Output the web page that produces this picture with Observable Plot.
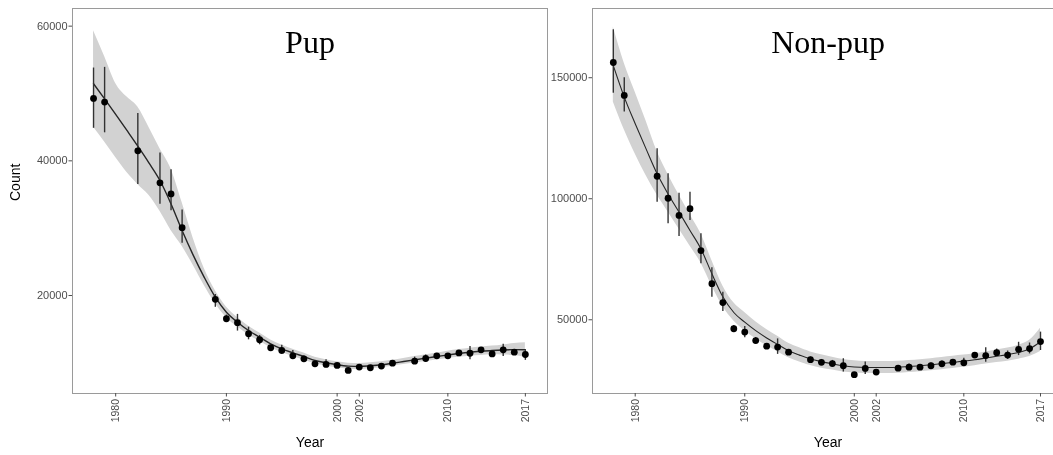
<!DOCTYPE html>
<html><head><meta charset="utf-8">
<script src="https://cdn.jsdelivr.net/npm/d3@7"></script>
<script src="https://cdn.jsdelivr.net/npm/@observablehq/plot@0.6"></script>
<style>
body{margin:0;background:#fff;overflow:hidden}
#wrap{position:relative;width:1053px;height:455px;overflow:hidden;background:#fff}
#left{position:absolute;left:0;top:0;width:560px;height:455px}
#right{position:absolute;left:560px;top:0;width:503px;height:455px}
#wrap svg{max-width:none !important;will-change:transform;-webkit-font-smoothing:antialiased}
</style></head><body><div id="wrap"><div id="left"></div><div id="right"></div></div>
<script>
// ---- shared ----
const xTicks = [1980, 1990, 2000, 2002, 2010, 2017];
const fitYears = [1978,1979,1980,1981,1982,1983,1984,1985,1986,1987,1988,1989,1990,1991,1992,1993,1994,1995,1996,1997,1998,1999,2000,2001,2002,2003,2004,2005,2006,2007,2008,2009,2010,2011,2012,2013,2014,2015,2016,2017];

// ---- Pup ----
const pupYTicks = [20000, 40000, 60000];
const pupFit = [51440,49200,46900,44550,42170,39700,37080,33600,29650,26000,22700,19750,17520,16040,14800,13810,12830,12090,11490,10940,10350,10010,9710,9510,9460,9560,9710,9950,10200,10450,10700,10940,11190,11400,11580,11720,11840,11920,11960,11940];
const pupFitLo = [45000,42800,40500,38300,36500,34900,32500,29650,27300,24500,21500,18800,16700,15350,14150,13200,12250,11540,10960,10430,9860,9540,9260,9060,9010,9110,9260,9500,9740,9970,10200,10420,10640,10830,10980,11090,11190,11170,11080,10850];
const pupFitHi = [59300,55500,51500,49500,48000,45000,41800,38800,33800,28500,24000,20700,18300,16730,15450,14420,13410,12640,12020,11450,10840,10480,10160,9960,9910,10010,10160,10400,10660,10930,11200,11460,11740,11970,12180,12350,12490,12670,12880,13000];
const pupObsYears = [1978,1979,1982,1984,1985,1986,1989,1990,1991,1992,1993,1994,1995,1996,1997,1998,1999,2000,2001,2002,2003,2004,2005,2007,2008,2009,2010,2011,2012,2013,2014,2015,2016,2017];
const pupObs   = [49270,48730,41490,36730,35090,30080,19430,16550,15960,14320,13430,12240,11850,11050,10600,9860,9770,9620,8880,9370,9270,9520,9960,10250,10650,11040,11040,11480,11430,11930,11330,11930,11580,11240];
const pupObsLo = [44830,44160,36480,33560,32570,27760,18250,16000,14720,13420,12680,11900,11250,10640,10200,9600,9270,9300,8650,9100,9050,9300,9700,9760,10150,10750,10750,11200,10460,11650,11050,10950,11300,10370];
const pupObsHi = [53780,53880,47030,41150,38660,32710,20150,17100,17200,15300,14070,12600,12600,11850,11000,10100,10460,9950,9100,9650,9500,9750,10200,10850,11150,11350,11350,11750,12440,12200,11600,12780,11850,11860];

// ---- Non-pup ----
const nonpupYTicks = [50000, 100000, 150000];
const nonpupFit = [155000,142000,131000,120500,110300,102000,94500,86900,79300,69000,59500,53000,49000,45500,42500,39800,37200,35400,33800,32700,31800,31000,30500,30300,30300,30300,30400,30700,31000,31400,31900,32400,32900,33500,34200,34900,35600,36500,38000,40900];
const nonpupFitLo = [140000,128500,118500,109500,101500,94500,87500,80500,73500,64000,55500,49500,45500,42200,39300,36800,34300,32600,31100,30000,29200,28400,28000,27800,27800,27800,27900,28200,28500,28900,29400,29900,30400,31000,31700,32300,32900,33700,34800,36900];
const nonpupFitHi = [171000,156000,144000,132000,119500,110000,101500,93500,85500,74500,64000,57000,53000,49200,46000,43200,40300,38400,36700,35500,34500,33600,33100,32800,32800,32800,32900,33200,33500,33900,34400,34900,35400,36000,36700,37500,38300,39500,41500,46500];
const nonpupObsYears = [1978,1979,1982,1983,1984,1985,1986,1987,1988,1989,1990,1991,1992,1993,1994,1996,1997,1998,1999,2000,2001,2002,2004,2005,2006,2007,2008,2009,2010,2011,2012,2013,2014,2015,2016,2017];
const nonpupObs   = [156300,142700,109300,100200,93100,95900,78600,64900,57100,46300,44900,41400,39100,38700,36600,33500,32400,31900,31000,27300,29900,28400,30000,30400,30400,31000,31800,32500,32200,35400,35200,36400,35400,37800,38100,41000];
const nonpupObsLo = [143600,135800,98600,89700,84400,91000,73100,59300,53400,44700,42600,40200,37900,35700,35500,32400,31100,30700,28400,26400,27400,27400,28800,29000,29300,29900,30700,31300,30700,34200,32500,34800,33600,35200,35900,37300];
const nonpupObsHi = [169800,150000,120700,110300,102300,102700,85500,71500,61400,47600,47200,42700,40200,42100,37700,34600,33600,33200,33900,28200,32600,29300,31100,31700,31500,32100,33000,33600,34100,36500,38400,37900,37100,40700,40400,44900];

const FONT = "'Liberation Sans', Arial, sans-serif";

function panel({title, yTicks, fit, lo, hi, obsYears, obs, obsLo, obsHi, width, marginLeft, marginRight, yDomain, xDomain, showCount, lineWidth}) {
  const fitTable = fitYears.map((year, i) => ({year, fit: fit[i], lo: lo[i], hi: hi[i]}));
  const obsTable = obsYears.map((year, i) => ({year, value: obs[i], lo: obsLo[i], hi: obsHi[i]}));
  const marks = [
    Plot.areaY(fitTable, {x: "year", y1: "lo", y2: "hi", fill: "#d2d2d2", curve: "monotone-x"}),
    Plot.line(fitTable, {x: "year", y: "fit", stroke: "#262626", strokeWidth: lineWidth, curve: "monotone-x"}),
    Plot.ruleX(obsTable, {x: "year", y1: "lo", y2: "hi", stroke: "#333", strokeWidth: 1.4}),
    Plot.dot(obsTable, {x: "year", y: "value", r: 3.4, fill: "#000", stroke: "none"}),
    Plot.frame({stroke: "#9a9a9a", strokeWidth: 1}),
    Plot.axisY({ticks: yTicks, tickFormat: d => String(d), tickSize: 3.5, tickPadding: 1.5, fontSize: 11, color: "#4d4d4d", label: null}),
    Plot.axisX({ticks: xTicks, tickFormat: d => String(d), tickSize: 3.5, tickPadding: 2, tickRotate: -90, fontSize: 10.5, color: "#4d4d4d", label: null}),
    Plot.text([title], {frameAnchor: "top", dy: 22, fontSize: 32, fontFamily: "'Liberation Serif', 'Times New Roman', serif", fill: "#000", text: d => d}),
    Plot.text(["Year"], {frameAnchor: "bottom", dy: 53, fontSize: 14, fill: "#000", text: d => d})
  ];
  if (showCount) marks.push(Plot.text(["Count"], {frameAnchor: "left", dx: -57, rotate: -90, fontSize: 14, fill: "#000", text: d => d}));
  return Plot.plot({
    width, height: 455,
    marginLeft, marginRight, marginTop: 8, marginBottom: 62,
    style: {fontFamily: FONT, background: "#fff", overflow: "visible", maxWidth: "none"},
    x: {domain: xDomain, axis: null},
    y: {domain: yDomain, axis: null},
    marks
  });
}

document.getElementById("left").append(panel({
  title: "Pup", yTicks: pupYTicks, fit: pupFit, lo: pupFitLo, hi: pupFitHi,
  obsYears: pupObsYears, obs: pupObs, obsLo: pupObsLo, obsHi: pupObsHi,
  width: 560, marginLeft: 72, marginRight: 13, yDomain: [5450, 62620], xDomain: [1976.1, 2019.0], showCount: true, lineWidth: 1.4
}));
document.getElementById("right").append(panel({
  title: "Non-pup", yTicks: nonpupYTicks, fit: nonpupFit, lo: nonpupFitLo, hi: nonpupFitHi,
  obsYears: nonpupObsYears, obs: nonpupObs, obsLo: nonpupObsLo, obsHi: nonpupObsHi,
  width: 503, marginLeft: 32, marginRight: 0, yDomain: [19540, 178600], xDomain: [1976.1, 2019.1], showCount: false, lineWidth: 1.1
}));
</script></body></html>
